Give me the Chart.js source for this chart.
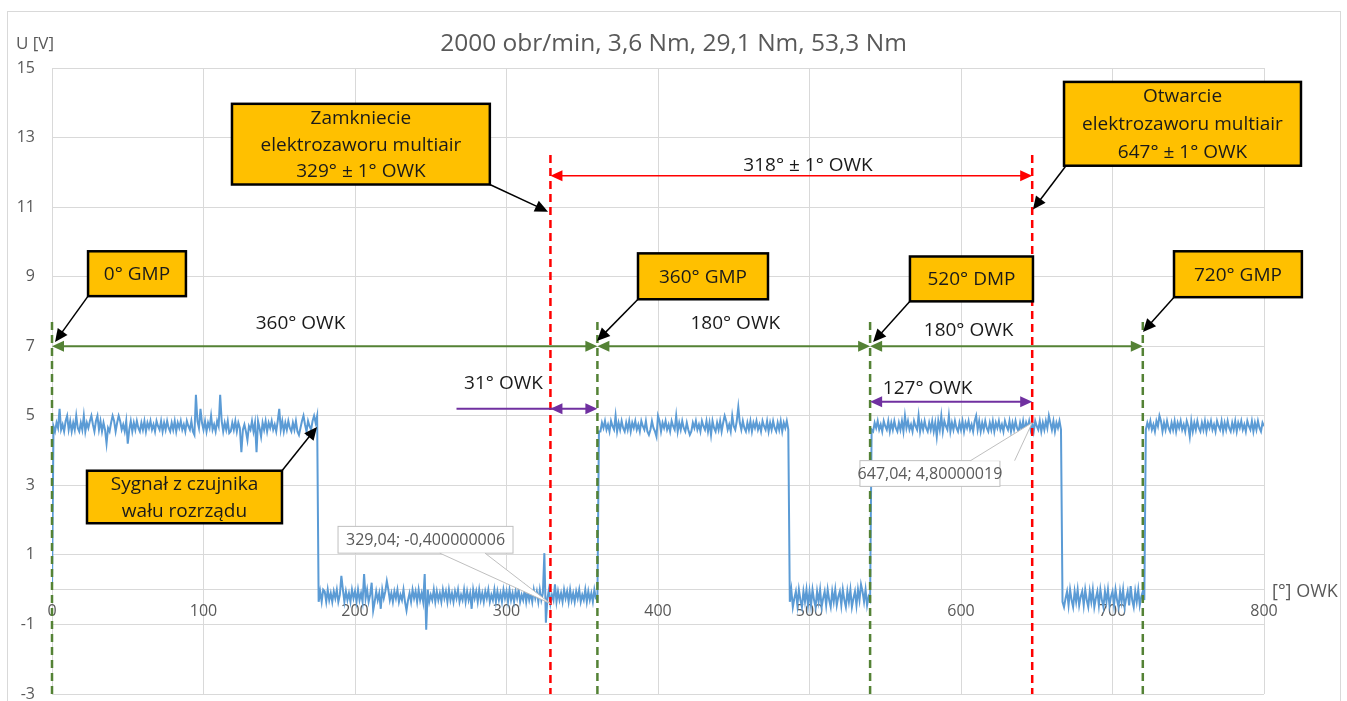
<!DOCTYPE html>
<html lang="pl">
<head>
<meta charset="utf-8">
<title>2000 obr/min, 3,6 Nm, 29,1 Nm, 53,3 Nm</title>
<script src="https://cdn.jsdelivr.net/npm/chart.js@4.4.1/dist/chart.umd.min.js"></script>
<style>
  html, body { margin: 0; padding: 0; background: #fff; }
  #wrap { width: 1347px; height: 701px; }
</style>
</head>
<body>
<div id="wrap"><canvas id="chart"></canvas></div>
<script>
// sygnał z czujnika wału rozrządu, próbki co 1° OWK (0..800), 20 próbek w wierszu
const angleStep = 1;
const voltage = [
  0, 4.7, 4.55, 4.8, 4.65, 5.2, 4.6, 4.75, 4.55, 4.85, 5.0, 4.6, 4.85, 4.55, 4.8, 4.6, 5.0, 4.65, 4.55, 4.8,
  4.6, 5.0, 4.55, 4.8, 4.65, 4.85, 5.0, 4.75, 4.55, 4.85, 5.0, 4.6, 4.85, 4.55, 4.8, 4.6, 4.2, 4.65, 4.55, 4.8,
  5.0, 4.85, 4.55, 4.8, 5.0, 4.85, 4.6, 4.75, 4.55, 4.85, 4.2, 4.6, 4.85, 4.55, 4.8, 4.6, 4.85, 4.65, 4.55, 4.8,
  4.6, 4.85, 4.55, 4.8, 4.65, 4.85, 4.6, 4.75, 4.55, 4.85, 4.7, 4.6, 4.85, 4.55, 4.8, 4.6, 4.85, 4.65, 4.55, 4.8,
  4.6, 4.85, 4.55, 4.8, 4.65, 4.85, 4.6, 4.75, 4.55, 4.85, 4.7, 4.6, 4.85, 4.55, 4.45, 5.6, 4.85, 4.65, 5.2, 4.8,
  4.6, 4.85, 4.55, 4.8, 4.65, 5.0, 4.6, 4.75, 4.55, 4.85, 4.7, 5.6, 4.85, 4.55, 4.8, 4.6, 4.85, 4.5, 4.55, 4.8,
  4.6, 4.85, 4.55, 4.8, 4.65, 3.95, 4.6, 4.75, 4.55, 4.3, 4.7, 4.6, 4.85, 4.55, 4.8, 3.95, 4.85, 4.65, 4.4, 4.8,
  4.6, 4.85, 4.55, 4.8, 4.65, 4.85, 4.6, 4.75, 4.55, 4.85, 5.2, 4.6, 4.85, 4.55, 4.8, 4.6, 4.85, 4.65, 4.55, 4.8,
  4.6, 4.85, 4.55, 4.45, 4.65, 4.85, 5.0, 4.75, 4.55, 4.85, 4.7, 4.6, 4.85, 5.0, 4.8, 5.0, -0.35, -0.05, -0.35, 0,
  -0.05, -0.35, 0, -0.3, -0.1, -0.35, -0.05, -0.25, 0, -0.35, -0.15, 0.4, 0, -0.35, -0.05, -0.3, -0.1, -0.35, 0, -0.25,
  -0.05, -0.35, 0, -0.3, -0.1, -0.35, 0.45, -0.25, 0, -0.35, -0.15, 0.2, -0.6, -0.35, -0.05, -0.3, -0.1, -0.55, 0, -0.25,
  -0.05, 0.25, 0, -0.3, -0.1, -0.35, -0.05, -0.25, 0, -0.35, -0.15, -0.3, 0, -0.35, -0.6, -0.3, -0.1, -0.35, 0, -0.25,
  -0.05, -0.35, 0, -0.3, -0.1, -0.35, 0.45, -1.15, 0, -0.35, -0.15, -0.3, 0, -0.35, -0.05, -0.3, -0.1, -0.35, 0, -0.25,
  -0.05, -0.35, 0, -0.3, -0.1, -0.35, -0.05, -0.25, 0, -0.35, -0.15, -0.3, 0, -0.35, -0.05, -0.3, -0.1, -0.55, 0, -0.25,
  -0.05, -0.35, 0, -0.3, -0.1, -0.35, -0.05, -0.25, 0, -0.35, -0.15, -0.3, 0, -0.35, -0.05, -0.3, -0.1, -0.35, 0, -0.25,
  -0.05, -0.35, 0, -0.3, -0.1, -0.35, -0.05, -0.25, 0, -0.35, -0.15, -0.3, 0, -0.35, -0.05, -0.3, -0.1, -0.35, 0, -0.25,
  -0.05, -0.35, 0, -0.3, -0.1, 1.05, -0.95, -0.25, 0, -0.4, -0.15, -0.3, 0.15, -0.35, -0.05, -0.3, -0.1, -0.35, 0, -0.25,
  -0.05, -0.35, 0, -0.3, -0.1, -0.35, -0.05, -0.25, 0, -0.35, -0.15, -0.3, 0, -0.35, -0.05, -0.3, -0.1, -0.35, 0, -0.25,
  -0.3, 4.55, 4.55, 4.8, 4.65, 4.85, 4.6, 4.75, 4.55, 4.85, 4.7, 4.6, 5.0, 4.55, 4.8, 4.6, 4.85, 4.65, 4.55, 4.8,
  4.6, 4.85, 4.55, 4.8, 4.65, 4.85, 4.6, 4.75, 4.55, 4.85, 4.7, 4.6, 4.85, 4.55, 4.45, 4.6, 4.85, 4.65, 4.55, 4.4,
  5.0, 4.85, 4.55, 4.8, 4.65, 4.85, 4.6, 4.75, 4.55, 4.85, 4.7, 4.6, 5.0, 4.55, 4.8, 4.6, 4.85, 4.65, 4.55, 4.8,
  4.6, 4.45, 4.55, 4.8, 4.65, 4.85, 4.6, 4.75, 4.55, 4.85, 4.7, 4.6, 4.85, 4.55, 4.8, 4.45, 4.85, 4.65, 4.55, 4.8,
  4.6, 4.85, 4.55, 4.8, 5.0, 4.85, 4.6, 4.75, 4.55, 5.0, 4.7, 4.6, 4.85, 5.25, 4.8, 4.6, 4.85, 4.65, 4.55, 4.8,
  4.6, 4.85, 4.55, 4.8, 4.65, 4.85, 4.6, 4.75, 4.55, 4.85, 4.7, 4.6, 4.85, 4.55, 4.8, 4.6, 4.85, 4.65, 4.55, 4.8,
  4.6, 4.85, 4.55, 4.8, 4.65, 4.85, 4.6, -0.35, 0, -0.5, -0.25, -0.05, -0.45, 0, -0.3, -0.5, -0.05, -0.35, 0, -0.45,
  -0.05, -0.45, 0, -0.3, -0.5, -0.05, -0.35, 0, -0.5, -0.25, -0.05, -0.45, 0, -0.3, -0.5, -0.05, -0.35, 0, -0.45, -0.2,
  -0.05, -0.45, 0, -0.3, -0.5, -0.05, -0.35, 0, -0.5, -0.25, -0.05, -0.45, 0, -0.3, 0.15, -0.05, -0.35, 0, -0.45, -0.2,
  -0.3, 4.6, 4.55, 4.8, 4.65, 4.85, 4.6, 4.75, 4.55, 4.85, 4.7, 4.6, 4.85, 4.55, 4.8, 4.6, 4.85, 4.65, 4.55, 4.8,
  4.6, 4.85, 4.55, 5.0, 4.65, 4.85, 4.6, 4.75, 4.55, 4.85, 4.7, 4.6, 5.0, 4.55, 4.8, 4.6, 4.85, 4.65, 4.55, 4.8,
  4.6, 4.85, 4.55, 4.8, 4.4, 4.85, 4.6, 5.0, 4.55, 4.85, 4.7, 4.6, 5.0, 4.55, 4.8, 4.6, 4.85, 4.65, 4.55, 4.8,
  4.6, 4.85, 4.55, 4.8, 4.65, 4.85, 4.6, 4.75, 4.55, 4.85, 5.0, 4.6, 4.85, 4.55, 4.8, 4.6, 4.85, 4.65, 4.55, 4.8,
  4.6, 4.85, 4.55, 4.8, 4.65, 4.85, 4.6, 4.75, 4.55, 4.85, 4.7, 4.6, 4.85, 4.55, 4.8, 4.6, 4.85, 4.65, 4.55, 4.8,
  4.6, 4.85, 4.55, 4.8, 4.65, 4.85, 4.6, 4.8, 4.55, 4.85, 4.7, 4.6, 4.85, 4.55, 4.8, 4.6, 4.85, 4.65, 5.0, 4.8,
  4.6, 4.85, 4.55, 4.8, 4.65, 4.85, 4.6, -0.35, -0.5, -0.25, -0.05, -0.45, 0, -0.3, -0.5, -0.05, -0.35, 0, -0.45, -0.2,
  -0.05, -0.45, 0, -0.3, -0.5, -0.05, -0.35, 0, -0.5, -0.25, -0.05, -0.45, 0, -0.3, -0.5, -0.05, -0.35, 0, -0.45, -0.2,
  -0.05, -0.45, 0, -0.3, -0.5, -0.05, -0.35, 0, -0.5, -0.25, -0.05, -0.45, 0.1, -0.3, -0.5, -0.05, -0.35, 0, -0.45, -0.2,
  -0.05, -0.3, 4.6, 4.8, 4.65, 4.85, 4.6, 4.75, 4.55, 4.85, 4.7, 5.0, 4.85, 4.55, 4.8, 4.6, 4.85, 4.65, 4.55, 4.8,
  4.6, 4.85, 4.55, 4.8, 4.65, 4.85, 4.6, 4.75, 4.55, 4.85, 4.7, 4.4, 4.85, 4.55, 4.8, 4.6, 4.85, 4.65, 4.55, 4.8,
  4.6, 4.85, 4.55, 4.8, 4.65, 4.85, 4.6, 4.75, 4.55, 4.85, 4.7, 4.6, 4.85, 4.55, 4.8, 4.6, 4.85, 4.65, 4.55, 4.8,
  4.6, 4.85, 4.55, 4.8, 4.65, 4.85, 4.6, 4.75, 4.55, 4.85, 4.7, 4.6, 4.85, 4.55, 4.8, 4.6, 4.85, 4.65, 4.55, 4.8,
  4.7
];

// znaczniki położenia wału [° OWK]
const gmpAngles = [0, 360, 540, 720];
const valveAngles = [329, 647];

const chartTitle = '2000 obr/min, 3,6 Nm, 29,1 Nm, 53,3 Nm';
const yTitle = 'U [V]';
const xTitle = '[°] OWK';

// strzałki wymiarowe (wartości w jednostkach osi)
const spans = [
  { from: 0, to: 360, at: 7, kind: 'green', text: '360° OWK', tx: 164, ty: 7.64 },
  { from: 360, to: 540, at: 7, kind: 'green', text: '180° OWK', tx: 451, ty: 7.64 },
  { from: 540, to: 720, at: 7, kind: 'green', text: '180° OWK', tx: 605, ty: 7.44 },
  { from: 329, to: 647, at: 11.9, kind: 'red', text: '318° ± 1° OWK', tx: 499, ty: 12.2 },
  { from: 329, to: 360, at: 5.2, kind: 'purple', tail: 267, text: '31° OWK', tx: 298, ty: 5.92 },
  { from: 540, to: 647, at: 5.4, kind: 'purple', text: '127° OWK', tx: 578, ty: 5.77 }
];

// żółte opisy ze strzałkami
const notes = [
  { lines: ['0° GMP'], left: 23.8, right: 88.4, top: 9.73, bottom: 8.44, from: [23.8, 8.44], to: [2, 7.12] },
  { lines: ['Zamkniecie', 'elektrozaworu multiair', '329° ± 1° OWK'], left: 118.8, right: 289, top: 13.97, bottom: 11.65, from: [289, 11.65], to: [327.4, 10.87] },
  { lines: ['360° GMP'], left: 386.8, right: 472.6, top: 9.67, bottom: 8.35, from: [386.8, 8.35], to: [359.7, 7.15] },
  { lines: ['520° DMP'], left: 566.3, right: 647.5, top: 9.58, bottom: 8.29, from: [566.3, 8.29], to: [542, 7.12] },
  { lines: ['Otwarcie', 'elektrozaworu multiair', '647° ± 1° OWK'], left: 668, right: 824.4, top: 14.6, bottom: 12.19, from: [669.3, 12.19], to: [647.5, 10.93] },
  { lines: ['720° GMP'], left: 740.6, right: 825, top: 9.73, bottom: 8.41, from: [740.6, 8.41], to: [720.1, 7.41] },
  { lines: ['Sygnał z czujnika', 'wału rozrządu'], left: 23.1, right: 151.8, top: 3.42, bottom: 1.91, from: [151.8, 3.42], to: [174.9, 4.68] }
];

// etykiety danych (punkty 329,04 i 647,04)
const pointLabels = [
  { text: '329,04; -0,400000006', left: 188.8, right: 304.3, top: 1.82, bottom: 1.05, base: [256, 285.8], side: 'bottom', tip: [329, -0.4] },
  { text: '647,04; 4,80000019', left: 533.3, right: 625.7, top: 3.71, bottom: 2.97, base: [606.3, 635.4], side: 'top', tip: [647, 4.8] }
];

const colors = { green: '#548235', red: '#ff0000', purple: '#7030a0', black: '#000000' };
const FONT = "'Open Sans', sans-serif";
Chart.defaults.font.family = FONT;

function arrowHead(ctx, x0, y0, x1, y1, len, half, color) {
  const a = Math.atan2(y1 - y0, x1 - x0);
  ctx.save();
  ctx.translate(x1, y1);
  ctx.rotate(a);
  ctx.beginPath();
  ctx.moveTo(0, 0);
  ctx.lineTo(-len, -half);
  ctx.lineTo(-len, half);
  ctx.closePath();
  ctx.fillStyle = color;
  ctx.fill();
  ctx.restore();
}

const notesPlugin = {
  id: 'owkNotes',
  beforeDraw(chart) {
    const ctx = chart.ctx;
    ctx.save();
    ctx.fillStyle = '#ffffff';
    ctx.fillRect(0, 0, chart.width, chart.height);
    ctx.strokeStyle = '#d9d9d9';
    ctx.lineWidth = 1;
    ctx.strokeRect(7.5, 11.5, 1333, 700);
    ctx.restore();
  },
  afterDatasetsDraw(chart) {
    const ctx = chart.ctx;
    const xs = chart.scales.x, ys = chart.scales.y;
    const px = v => xs.getPixelForValue(v);
    const py = v => ys.getPixelForValue(v);
    ctx.save();

    // tytuły
    ctx.fillStyle = '#595959';
    ctx.textBaseline = 'middle';
    ctx.textAlign = 'center';
    ctx.font = '24.5px ' + FONT;
    ctx.fillText(chartTitle, chart.width / 2, 44);
    ctx.textAlign = 'left';
    ctx.font = '17px ' + FONT;
    ctx.fillText(yTitle, 16, 44);
    ctx.font = '18px ' + FONT;
    ctx.fillText(xTitle, px(800) + 8, py(0) + 2);

    // linie przerywane
    ctx.lineWidth = 2.5;
    ctx.setLineDash([8, 5]);
    ctx.strokeStyle = colors.green;
    gmpAngles.forEach(a => {
      ctx.beginPath();
      ctx.moveTo(px(a), py(7.7));
      ctx.lineTo(px(a), py(-3));
      ctx.stroke();
    });
    ctx.strokeStyle = colors.red;
    valveAngles.forEach(a => {
      ctx.beginPath();
      ctx.moveTo(px(a), py(12.5));
      ctx.lineTo(px(a), py(-3));
      ctx.stroke();
    });
    ctx.setLineDash([]);

    // strzałki wymiarowe
    spans.forEach(s => {
      const c = colors[s.kind];
      const y = py(s.at), x0 = px(s.from), x1 = px(s.to);
      const start = s.tail !== undefined ? px(s.tail) : x0 + 8;
      ctx.strokeStyle = c;
      ctx.lineWidth = s.kind === 'red' ? 1.5 : 2;
      ctx.beginPath();
      ctx.moveTo(start, y);
      ctx.lineTo(x1 - 8, y);
      ctx.stroke();
      arrowHead(ctx, x0 + 10, y, x0, y, 12, 5.5, c);
      arrowHead(ctx, x1 - 10, y, x1, y, 12, 5.5, c);
      ctx.fillStyle = '#1a1a1a';
      ctx.font = '19px ' + FONT;
      ctx.textAlign = 'center';
      ctx.fillText(s.text, px(s.tx), py(s.ty));
    });

    // żółte opisy
    notes.forEach(n => {
      const l = px(n.left), r = px(n.right), t = py(n.top), b = py(n.bottom);
      const fx = px(n.from[0]), fy = py(n.from[1]);
      const tx = px(n.to[0]), ty = py(n.to[1]);
      const a = Math.atan2(ty - fy, tx - fx);
      ctx.strokeStyle = colors.black;
      ctx.lineWidth = 1.5;
      ctx.beginPath();
      ctx.moveTo(fx, fy);
      ctx.lineTo(tx - Math.cos(a) * 10, ty - Math.sin(a) * 10);
      ctx.stroke();
      arrowHead(ctx, fx, fy, tx, ty, 13, 6, colors.black);

      ctx.fillStyle = '#ffc000';
      ctx.fillRect(l, t, r - l, b - t);
      ctx.lineWidth = 2.5;
      ctx.strokeRect(l, t, r - l, b - t);
      ctx.fillStyle = '#1a1a1a';
      ctx.font = '19px ' + FONT;
      ctx.textAlign = 'center';
      const step = (b - t) / n.lines.length;
      n.lines.forEach((line, i) => {
        ctx.fillText(line, (l + r) / 2, t + step * (i + 0.5) + 1);
      });
    });

    // etykiety danych
    pointLabels.forEach(p => {
      const l = px(p.left), r = px(p.right), t = py(p.top), b = py(p.bottom);
      const edge = p.side === 'bottom' ? b : t;
      const b0 = px(p.base[0]), b1 = px(p.base[1]);
      const tipX = px(p.tip[0]), tipY = py(p.tip[1]);
      ctx.fillStyle = '#ffffff';
      ctx.fillRect(l, t, r - l, b - t);
      ctx.strokeStyle = '#bfbfbf';
      ctx.lineWidth = 1;
      ctx.strokeRect(l, t, r - l, b - t);
      ctx.beginPath();
      ctx.moveTo(b0, edge);
      ctx.lineTo(tipX, tipY);
      ctx.lineTo(b1, edge);
      ctx.closePath();
      ctx.fill();
      ctx.beginPath();
      ctx.moveTo(b0, edge);
      ctx.lineTo(tipX, tipY);
      ctx.lineTo(b1, edge);
      ctx.stroke();
      ctx.fillStyle = '#595959';
      ctx.font = '16px ' + FONT;
      ctx.textAlign = 'center';
      ctx.fillText(p.text, (l + r) / 2, (t + b) / 2 + 1);
    });

    ctx.restore();
  }
};

const points = voltage.map((v, i) => ({ x: i * angleStep, y: v }));

new Chart(document.getElementById('chart'), {
  type: 'line',
  data: {
    datasets: [{
      label: 'U [V]',
      data: points,
      borderColor: '#5b9bd5',
      borderWidth: 2,
      pointRadius: 0,
      tension: 0,
      fill: false
    }]
  },
  options: {
    responsive: true,
    maintainAspectRatio: false,
    animation: false,
    layout: { padding: { top: 68, right: 83, bottom: 7, left: 0 } },
    plugins: {
      legend: { display: false },
      tooltip: { enabled: false },
      title: { display: false }
    },
    scales: {
      x: {
        type: 'linear',
        position: { y: 0 },
        min: 0,
        max: 800,
        ticks: { stepSize: 100, color: '#595959', font: { size: 16 }, padding: 12, maxRotation: 0 },
        grid: { color: '#d9d9d9', drawTicks: false },
        border: { color: '#d9d9d9' },
        afterFit: s => { s.height = 0; }
      },
      y: {
        min: -3,
        max: 15,
        ticks: { stepSize: 2, color: '#595959', font: { size: 16, lineHeight: 0.9 }, padding: 17 },
        grid: { color: '#d9d9d9', drawTicks: false },
        border: { display: false },
        afterFit: s => { s.width = 52; s.paddingTop = 0; s.paddingBottom = 0; }
      }
    }
  },
  plugins: [notesPlugin]
});
</script>
</body>
</html>
